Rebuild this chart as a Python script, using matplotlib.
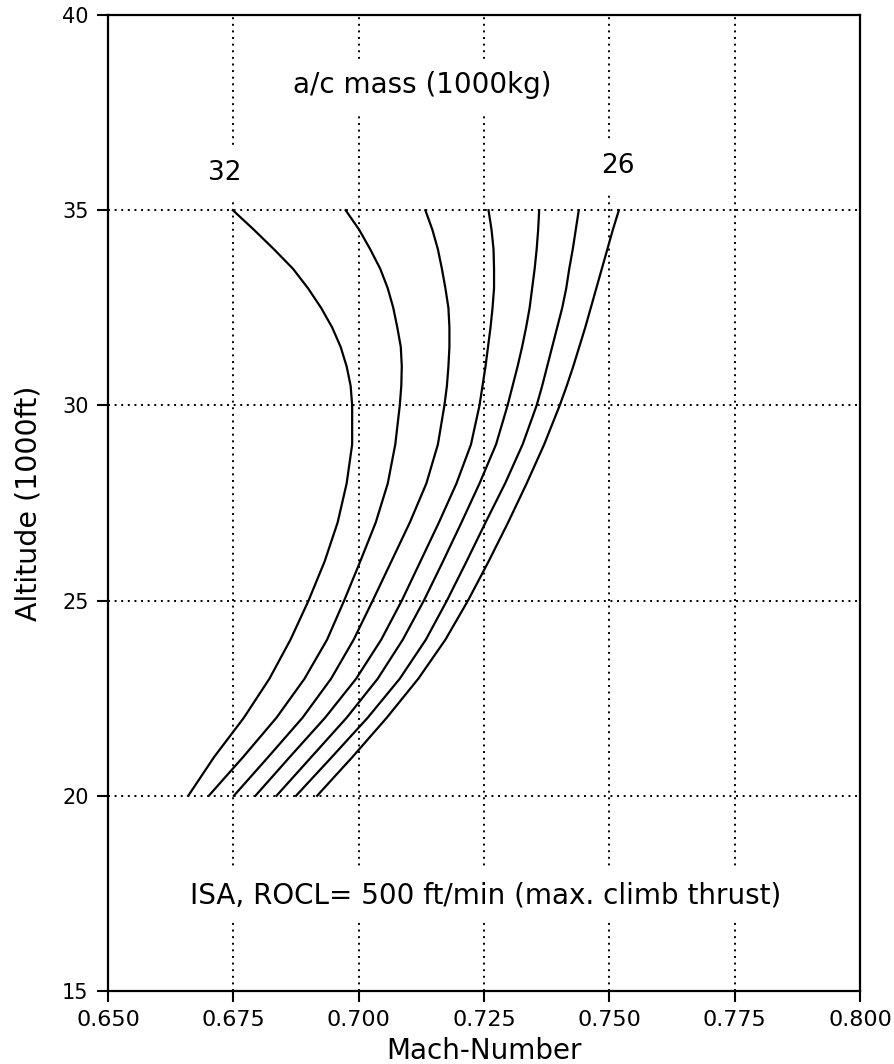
import matplotlib
matplotlib.use("Agg")
import matplotlib.pyplot as plt

# altitude (1000 ft) where each curve was read
altitude = [20, 21, 22, 23, 24, 25, 26, 27, 28, 29, 30,
            30.5, 31, 31.5, 32, 32.5, 33, 33.5, 34, 34.5, 35]

# Mach number per aircraft mass (1000 kg)
mach_32 = [0.6660, 0.6712, 0.6771, 0.6822, 0.6864, 0.6900, 0.6932, 0.6958, 0.6976, 0.6987, 0.6987,
           0.6984, 0.6976, 0.6964, 0.6947, 0.6925, 0.6899, 0.6869, 0.6831, 0.6791, 0.6749]
mach_31 = [0.6701, 0.6770, 0.6836, 0.6892, 0.6937, 0.6971, 0.7003, 0.7034, 0.7058, 0.7073, 0.7082,
           0.7085, 0.7086, 0.7084, 0.7077, 0.7069, 0.7058, 0.7043, 0.7023, 0.7001, 0.6974]
mach_30 = [0.6751, 0.6820, 0.6888, 0.6945, 0.6990, 0.7028, 0.7065, 0.7102, 0.7135, 0.7158, 0.7171,
           0.7176, 0.7179, 0.7181, 0.7181, 0.7179, 0.7173, 0.7166, 0.7158, 0.7147, 0.7133]
mach_29 = [0.6794, 0.6863, 0.6933, 0.6995, 0.7045, 0.7086, 0.7123, 0.7160, 0.7195, 0.7224, 0.7241,
           0.7247, 0.7253, 0.7258, 0.7263, 0.7267, 0.7270, 0.7270, 0.7269, 0.7265, 0.7259]
mach_28 = [0.6836, 0.6906, 0.6976, 0.7038, 0.7088, 0.7130, 0.7168, 0.7205, 0.7241, 0.7274, 0.7297,
           0.7307, 0.7317, 0.7326, 0.7334, 0.7341, 0.7346, 0.7351, 0.7355, 0.7358, 0.7360]
mach_27 = [0.6875, 0.6947, 0.7018, 0.7082, 0.7134, 0.7176, 0.7215, 0.7253, 0.7292, 0.7327, 0.7355,
           0.7366, 0.7376, 0.7386, 0.7396, 0.7406, 0.7414, 0.7420, 0.7427, 0.7433, 0.7439]
mach_26 = [0.6917, 0.6988, 0.7056, 0.7119, 0.7173, 0.7218, 0.7259, 0.7298, 0.7335, 0.7370, 0.7401,
           0.7415, 0.7428, 0.7440, 0.7452, 0.7463, 0.7474, 0.7485, 0.7496, 0.7507, 0.7519]

x_ticks = [0.650, 0.675, 0.700, 0.725, 0.750, 0.775, 0.800]
y_ticks = [15, 20, 25, 30, 35, 40]


def main():
    plt.rcParams['font.family'] = ['DejaVu Sans']

    fig = plt.figure(figsize=(8.94, 10.64), dpi=100)
    ax = fig.add_axes([0.1208, 0.0686, 0.8412, 0.9173])

    for m in [mach_32, mach_31, mach_30, mach_29, mach_28, mach_27, mach_26]:
        ax.plot(m, altitude, color='black', linewidth=1.6, zorder=3)

    ax.set_xlim(0.650, 0.800)
    ax.set_ylim(15, 40)
    ax.set_xticks(x_ticks)
    ax.set_xticklabels(['%.3f' % v for v in x_ticks])
    ax.set_yticks(y_ticks)
    ax.grid(True, color='black', linewidth=1.4, linestyle=(0, (1, 2.4)), zorder=1)
    for s in ax.spines.values():
        s.set_linewidth(1.6)
    ax.tick_params(direction='out', length=8, width=1.5, pad=6)
    ax.tick_params(axis='x', labelsize=16)
    ax.tick_params(axis='y', labelsize=15)

    ax.set_xlabel('Mach-Number', fontsize=20, labelpad=5)
    ax.set_ylabel('Altitude (1000ft)', fontsize=20.5, labelpad=14)

    box = dict(facecolor='white', edgecolor='none', pad=9)
    ax.text(0.7126, 38.0, 'a/c mass (1000kg)', fontsize=20, ha='center', va='baseline',
            bbox=box, zorder=4)
    ax.text(0.6733, 35.77, '32', fontsize=19, ha='center', va='baseline', bbox=box, zorder=4)
    ax.text(0.7517, 35.95, '26', fontsize=19, ha='center', va='baseline', bbox=box, zorder=4)
    ax.text(0.7254, 17.25, 'ISA, ROCL= 500 ft/min (max. climb thrust)', fontsize=20,
            ha='center', va='baseline', bbox=box, zorder=4)

    fig.savefig('out.png', dpi=100)


if __name__ == '__main__':
    main()
